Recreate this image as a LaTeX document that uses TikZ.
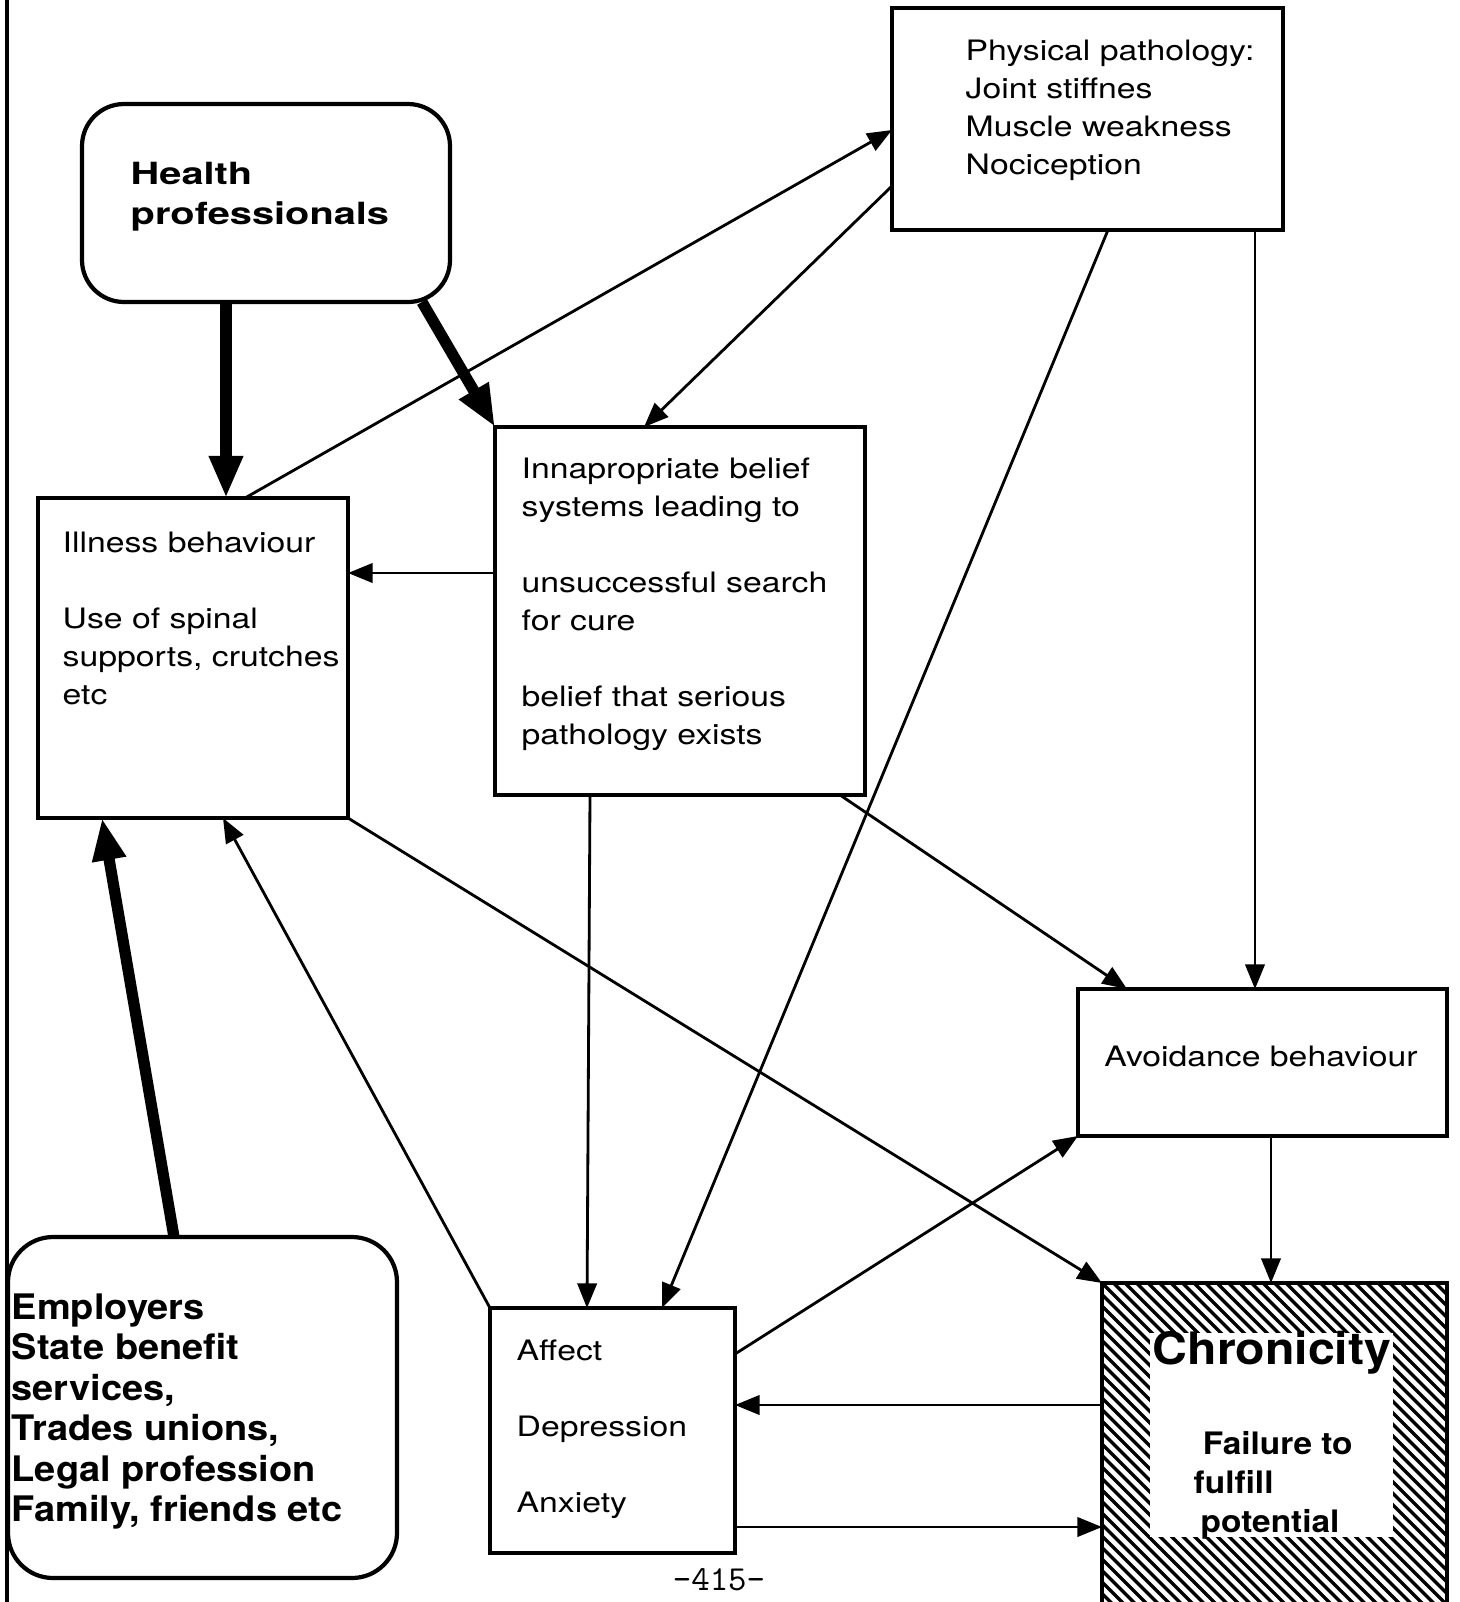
\documentclass[tikz,border=0pt]{standalone}
\usepackage{fontspec}
\usetikzlibrary{arrows.meta,fit,calc}
\newfontfamily\hreg[FakeStretch=1.2]{TeX Gyre Heros}
\newfontfamily\hbA[FakeStretch=1.3]{TeX Gyre Heros}
\newfontfamily\hbB[FakeStretch=1.08]{TeX Gyre Heros}
\begin{document}
\begin{tikzpicture}[x=0.01cm,y=-0.01cm,
  box/.style={draw,line width=1.2pt,inner sep=0pt,outer sep=0pt},
  rbox/.style={box,rounded corners=0.42cm},
  arr/.style={line width=0.8pt,-{Triangle[length=7pt,width=5.5pt]}},
  bigarr/.style={line width=3.2pt,-{Triangle[length=12pt,width=9pt]}},
  txt/.style={anchor=north west,inner sep=0pt,align=left,font=\hreg\fontsize{8pt}{10.8pt}\selectfont},
  btxtA/.style={anchor=north west,inner sep=0pt,align=left,font=\hbA\bfseries\fontsize{8.7pt}{11.4pt}\selectfont},
  btxtB/.style={anchor=north west,inner sep=0pt,align=left,font=\hbB\bfseries\fontsize{10pt}{11.5pt}\selectfont},
  hatch/.style={line width=0.95pt}
]
\useasboundingbox (0,0) rectangle (1459,1602);
\clip (0,0) rectangle (1459,1602);

% page edge line
\draw[line width=0.9pt] (7,0) -- (7,1602);

% boxes
\node[box,line width=1.4pt,fit={(892,8) (1283,230)}] (phys) {};
\node[rbox,fit={(82,104) (450,302)}] (health) {};
\node[box,fit={(38,498) (348,818)}] (ill) {};
\node[box,fit={(495,427) (865,795)}] (inap) {};
\node[box,fit={(1078,989) (1447,1136)}] (avoid) {};
\node[box,fit={(490,1308) (735,1553)}] (aff) {};
\node[rbox,rounded corners=0.45cm,fit={(8,1237) (397,1578)}] (emp) {};
\node[inner sep=0pt,outer sep=0pt,fit={(1102,1283) (1447,1610)}] (chron) {};

% hatching of chronicity box
\begin{scope}
  \clip (chron.north west) rectangle (chron.south east);
  \foreach \k in {0,...,60} \draw[hatch] (780+\k*11.5,1283) -- ++(400,400);
\end{scope}
\fill[white] (1150,1333) rectangle (1393,1537);
\draw[line width=1.4pt] (chron.north west) rectangle (chron.south east);

% texts
\node[txt] (physT) at (965,39) {Physical pathology:\\Joint stiffnes\\Muscle weakness\\Nociception};
\node[btxtA] (healthT) at (130,161) {Health\\professionals};
\node[txt] (illT) at (62,531) {Illness behaviour\\[10.8pt]Use of spinal\\supports, crutches\\etc};
\node[txt] (inapT) at (521,457) {Innapropriate belief\\systems leading to\\[10.8pt]unsuccessful search\\for cure\\[10.8pt]belief that serious\\pathology exists};
\node[inner sep=0pt,font=\hreg\fontsize{8pt}{10.8pt}\selectfont] (avoidT) at (1261,1056) {Avoidance behaviour};
\node[txt] (affT) at (516,1339) {Affect\\[10.8pt]Depression\\[10.8pt]Anxiety};
\node[btxtB] (empT) at (11,1293) {Employers\\State benefit\\services,\\Trades unions,\\Legal profession\\Family, friends etc};
\node[inner sep=0pt,font=\hbB\bfseries\fontsize{12.7pt}{14pt}\selectfont] (chronT) at (1272,1353) {Chronicity};
\node[anchor=north west,inner sep=0pt,align=left,font=\hbB\bfseries\fontsize{8.8pt}{11pt}\selectfont] (failT) at (1193,1431) {\hspace{2.6pt}Failure to\\fulfill\\\hspace{2pt}potential};
\node[inner sep=0pt,font=\ttfamily\fontsize{10pt}{12pt}\selectfont] (pg) at (719,1580) {-415-};

% thick arrows
\draw[bigarr] (health.south -| 226,0) -- (ill.north -| 226,0);
\draw[bigarr] (health.south -| 422,0) -- (inap.north west);
\draw[bigarr] (emp.north -| 174,0) -- (ill.south -| 102,0);

% thin arrows
\draw[arr] (ill.north -| 245,0) -- (phys.west |- 0,130);
\draw[arr] (phys.west |- 0,186) -- (inap.north -| 644,0);
\draw[arr] (inap.west |- 0,573) -- (ill.east |- 0,573);
\draw[arr] (phys.south -| 1108,0) -- (aff.north -| 662,0);
\draw[arr] (phys.south -| 1255,0) -- (avoid.north -| 1255,0);
\draw[arr] (inap.south -| 590,0) -- (aff.north -| 587,0);
\draw[arr] (inap.south -| 840,0) -- (avoid.north -| 1127,0);
\draw[arr] (ill.south east) -- (chron.north west);
\draw[arr] (aff.north west) -- (ill.south -| 223,0);
\draw[arr] (aff.east |- 0,1354) -- (avoid.south west);
\draw[arr] (avoid.south -| 1271,0) -- (chron.north -| 1271,0);
\draw[arr] (chron.west |- 0,1405) -- (aff.east |- 0,1405);
\draw[arr] (aff.east |- 0,1527) -- (chron.west |- 0,1527);
\end{tikzpicture}
\end{document}
